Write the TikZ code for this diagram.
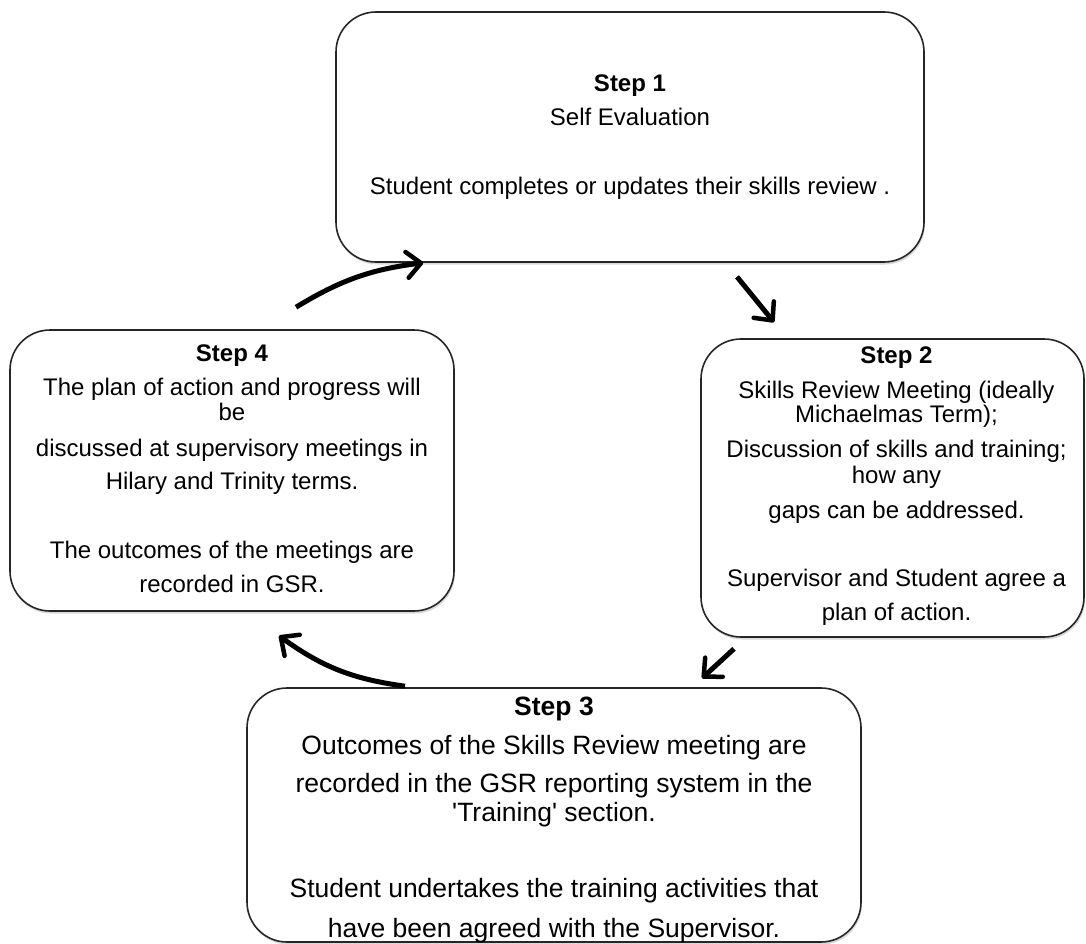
\documentclass[tikz,border=0pt]{standalone}
\usepackage{fontspec}
\setmainfont{Liberation Sans}
\usetikzlibrary{shapes, arrows.meta, positioning, shadows}

\begin{document}
\begin{tikzpicture}
  [
    x=1pt, y=-1pt,
    Box/.style={rectangle, rounded corners=40pt, draw=black!85, line width=1.6pt, fill=white,
      drop shadow={shadow xshift=1pt, shadow yshift=-2.5pt, opacity=0.3}, inner sep=0pt},
    Body/.style={align=center, inner sep=0pt, font=\fontsize{24}{24}\selectfont},
    Big/.style={align=center, inner sep=0pt, font=\fontsize{26.5}{26.5}\selectfont},
    Link/.style={draw, line width=5pt, -{Straight Barb[length=14pt, width=26pt, line width=4.5pt, round]}}
  ]
  \useasboundingbox (0,0) rectangle (1086,944);
  % Boxes
  \node[Box, minimum width=588pt, minimum height=250pt] (s1) at (630,137) {};
  \node[Box, minimum width=383pt, minimum height=298pt] (s2) at (892.5,488) {};
  \node[Box, minimum width=614pt, minimum height=254pt] (s3) at (554,815) {};
  \node[Box, minimum width=444pt, minimum height=281pt] (s4) at (232,470.5) {};
  % Texts
  \node[Body, below=63pt of s1.north] (t1) {\textbf{Step 1}\\[10pt]
    Self Evaluation\\[45pt]
    Student completes or updates their skills review .};
  \node[Body, below=8.5pt of s2.north, xshift=4pt] (t2) {\textbf{Step 2}\\[11pt]
    Skills Review Meeting (ideally\\
    Michaelmas Term);\\[11pt]
    Discussion of skills and training;\\[2pt]
    how any\\[11pt]
    gaps can be addressed.\\[44pt]
    Supervisor and Student agree a\\[10pt]
    plan of action.};
  \node[Big, below=10pt of s3.north] (t3) {\textbf{Step 3}\\[12pt]
    Outcomes of the Skills Review meeting are\\[12pt]
    recorded in the GSR reporting system in the\\[2pt]
    \textquotesingle Training\textquotesingle\ section.\\[50pt]
    Student undertakes the training activities that\\[13pt]
    have been agreed with the Supervisor.};
  \node[Body, below=15.5pt of s4.north] (t4) {\textbf{Step 4}\\[10pt]
    The plan of action and progress will\\[1pt]
    be\\[12pt]
    discussed at supervisory meetings in\\[9pt]
    Hilary and Trinity terms.\\[45pt]
    The outcomes of the meetings are\\[10pt]
    recorded in GSR.};
  % Lines
  \path [Link] ([xshift=107pt, yshift=-14pt]s1.south) -- ([xshift=-118.5pt, yshift=16pt]s2.north);
  \path [Link] ([xshift=-158.5pt, yshift=-11pt]s2.south) -- ([xshift=148pt, yshift=9pt]s3.north);
  \path [Link, bend left=14] ([xshift=-149pt, yshift=1pt]s3.north) to ([xshift=47pt, yshift=-24pt]s4.south);
  \path [Link, bend left=12] ([xshift=64pt, yshift=22pt]s4.north) to ([xshift=88pt]s1.south west);
\end{tikzpicture}
\end{document}
